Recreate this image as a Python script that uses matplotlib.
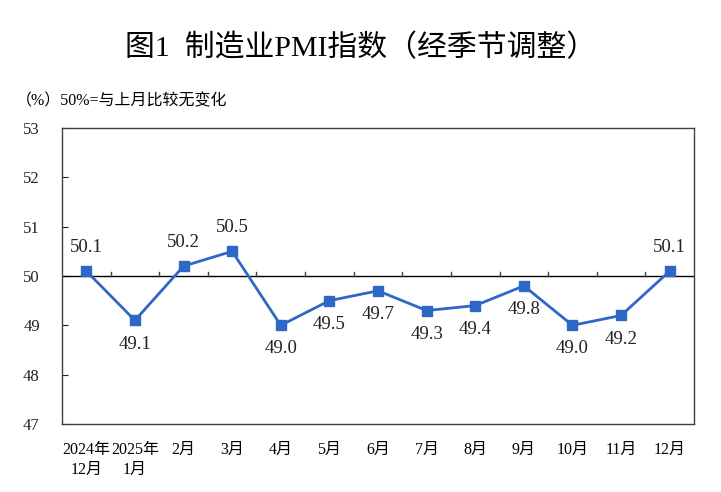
import numpy as np
import matplotlib.pyplot as plt

plt.rcParams['font.family'] = ['Liberation Serif', 'Noto Sans CJK SC']

months = ['2024年\n12月', '2025年\n1月', '2月', '3月', '4月', '5月', '6月',
          '7月', '8月', '9月', '10月', '11月', '12月']
pmi = [50.1, 49.1, 50.2, 50.5, 49.0, 49.5, 49.7, 49.3, 49.4, 49.8, 49.0, 49.2, 50.1]
label_above = [True, False, True, True, False, False, False, False, False, False, False, False, True]

fig = plt.figure(figsize=(7.21, 4.92), dpi=100)
ax = fig.add_axes([62 / 721, 1 - 424 / 492, (694 - 62) / 721, (424 - 128) / 492])

x = np.arange(len(months))
ax.plot(x, pmi, color='#2F67C6', lw=2, marker='s', ms=6.5, zorder=3)
ax.axhline(50, color='black', lw=1, zorder=2)

# small boundary ticks on the 50 line
for b in x[:-1] + 0.5:
    ax.plot([b, b], [50, 50.08], color='#404040', lw=1, zorder=2)

for xi, v, up in zip(x, pmi, label_above):
    off = 17 if up else -17
    ax.annotate(f'{v:.1f}', (xi, v), xytext=(0, off), textcoords='offset points',
                ha='center', va='center', fontsize=13.5, color='#222222')

ax.set_xlim(-0.5, len(months) - 0.5)
ax.set_ylim(47, 53)
ax.set_yticks(range(47, 54))
ax.tick_params(axis='y', direction='in', length=4, labelsize=12, pad=16, colors='#222222')
ax.set_xticks(x)
ax.set_xticklabels(months, fontsize=11.5, va='top', linespacing=1.3)
ax.tick_params(axis='x', length=0, pad=13)
for s in ax.spines.values():
    s.set_color('#404040')
    s.set_linewidth(1)

fig.text(0.5, 1 - 48 / 492, '图1  制造业PMI指数（经季节调整）', ha='center', va='center',
         fontsize=21.5, fontweight='medium')
fig.text(16 / 721, 1 - 101 / 492, '（%）50%=与上月比较无变化', ha='left', va='center',
         fontsize=11.5)

fig.savefig('out.png', dpi=100)
